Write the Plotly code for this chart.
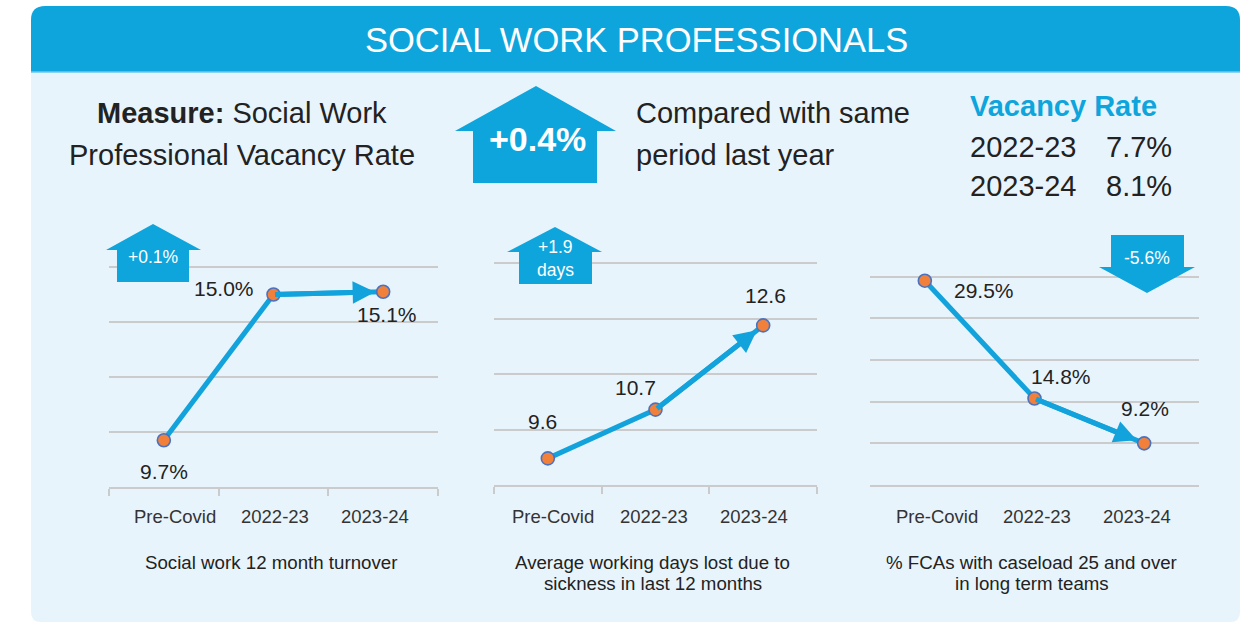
import plotly.graph_objects as go

# ---- data -------------------------------------------------------------
periods = ["Pre-Covid", "2022-23", "2023-24"]
turnover_pct = [9.7, 15.0, 15.1]          # social work 12 month turnover
sickness_days = [9.6, 10.7, 12.6]         # average working days lost to sickness
caseload_pct = [29.5, 14.8, 9.2]          # % FCAs with caseload 25+ in long term teams

vacancy_years = ["2022-23", "2023-24"]
vacancy_rates = [7.7, 8.1]

captions = [
    ["Social work 12 month turnover"],
    ["Average working days lost due to", "sickness in last 12 months"],
    ["% FCAs with caseload 25 and over", "in long term teams"],
]

# ---- page geometry / styling -----------------------------------------
W, H = 1249, 625
BLUE = "#0ea5dd"
PANEL = "#e8f4fb"
LINE = "#12a3dc"
ORANGE = "#f0803a"
MARK_EDGE = "#4a72c0"
GRID = "#cbcbcb"
TEXT = "#222222"
FONT = "Liberation Sans, Arial, sans-serif"


def X(px):
    return px / W


def Y(py):
    return 1 - py / H


def path(points):
    return "M " + " L ".join(f"{X(a):.5f},{Y(b):.5f}" for a, b in points) + " Z"


def rounded(x0, y0, x1, y1, rt, rb):
    """Rectangle in pixel coords with top radius rt and bottom radius rb."""
    p = [f"M {X(x0):.5f},{Y(y1 - rb):.5f}",
         f"L {X(x0):.5f},{Y(y0 + rt):.5f}",
         f"Q {X(x0):.5f},{Y(y0):.5f} {X(x0 + rt):.5f},{Y(y0):.5f}",
         f"L {X(x1 - rt):.5f},{Y(y0):.5f}",
         f"Q {X(x1):.5f},{Y(y0):.5f} {X(x1):.5f},{Y(y0 + rt):.5f}",
         f"L {X(x1):.5f},{Y(y1 - rb):.5f}",
         f"Q {X(x1):.5f},{Y(y1):.5f} {X(x1 - rb):.5f},{Y(y1):.5f}",
         f"L {X(x0 + rb):.5f},{Y(y1):.5f}",
         f"Q {X(x0):.5f},{Y(y1):.5f} {X(x0):.5f},{Y(y1 - rb):.5f} Z"]
    return " ".join(p)


# each small chart: series, pixel box, y scale anchors, gridline step, label offsets
charts = [
    dict(values=turnover_pct, fmt="{:.1f}%", x0=109, x1=438,
         vlo=8, ylo=487, vhi=16, yhi=267, top=16.25, dtick=2, ticks=True,
         offsets=[(0, -31), (-50, 6), (4, -23)], tick_shift=[11, 1, -8]),
    dict(values=sickness_days, fmt="{:.1f}", x0=494, x1=817,
         vlo=9, ylo=485, vhi=14, yhi=263.3, top=14.15, dtick=1.25, ticks=True,
         offsets=[(-5, 37), (-20, 22), (2, 30)], tick_shift=[5, -2, -9]),
    dict(values=caseload_pct, fmt="{:.1f}%", x0=870, x1=1199,
         vlo=4, ylo=485, vhi=30, yhi=276.7, top=30.6, dtick=5.2, ticks=False,
         offsets=[(59, -10), (26, 22), (1, 35)], tick_shift=[12, 2, -7]),
]

fig = go.Figure()
annotations = []

for i, c in enumerate(charts, start=1):
    xa = "x" if i == 1 else f"x{i}"
    ya = "y" if i == 1 else f"y{i}"
    ppu = (c["ylo"] - c["yhi"]) / (c["vhi"] - c["vlo"])
    ytop_px = c["yhi"] - (c["top"] - c["vhi"]) * ppu

    fig.add_trace(go.Scatter(
        x=periods, y=c["values"], xaxis=xa, yaxis=ya, mode="lines+markers",
        line=dict(color=LINE, width=5),
        marker=dict(size=13, color=ORANGE, line=dict(color=MARK_EDGE, width=1.6)),
        hoverinfo="skip", showlegend=False, cliponaxis=False,
    ))

    xkey = "xaxis" if i == 1 else f"xaxis{i}"
    ykey = "yaxis" if i == 1 else f"yaxis{i}"
    fig.update_layout({
        xkey: dict(domain=[X(c["x0"]), X(c["x1"])], anchor=ya, type="category",
                   range=[-0.5, len(periods) - 0.5],
                   showgrid=False, zeroline=False, showline=True,
                   linecolor=GRID, linewidth=2,
                   ticks="outside", tickson="boundaries", ticklen=7,
                   tickcolor=GRID if c["ticks"] else "rgba(0,0,0,0)", tickwidth=1.5,
                   showticklabels=False, fixedrange=True),
        ykey: dict(domain=[Y(c["ylo"]), Y(ytop_px)], anchor=xa,
                   range=[c["vlo"], c["top"]], tick0=c["vlo"], dtick=c["dtick"],
                   showgrid=True, gridcolor=GRID, gridwidth=2,
                   showticklabels=False, zeroline=False, showline=False,
                   ticks="", fixedrange=True),
    })

    # category labels under the axis
    for p, dx in zip(periods, c["tick_shift"]):
        annotations.append(dict(
            x=p, y=Y(516), xref=xa, yref="paper", text=p, showarrow=False,
            xshift=dx, xanchor="center", yanchor="middle",
            font=dict(family=FONT, size=18.5, color="#333333")))

    # value labels
    for p, v, (dx, dy) in zip(periods, c["values"], c["offsets"]):
        annotations.append(dict(
            x=p, y=v, xref=xa, yref=ya, text=c["fmt"].format(v), showarrow=False,
            xshift=dx, yshift=dy, font=dict(family=FONT, size=21, color=TEXT)))

    # arrow head on the last segment
    annotations.append(dict(
        x=periods[2], y=c["values"][2], xref=xa, yref=ya,
        ax=periods[1], ay=c["values"][1], axref=xa, ayref=ya,
        text="", showarrow=True, arrowhead=2, arrowsize=0.9, arrowwidth=5,
        arrowcolor=LINE, standoff=8))

    # caption under the chart
    cx = (c["x0"] + c["x1"]) / 2
    for k, line in enumerate(captions[i - 1]):
        annotations.append(dict(
            x=X(cx - 3), y=Y(562 + 21 * k), xref="paper", yref="paper",
            text=line, showarrow=False, xanchor="center", yanchor="middle",
            font=dict(family=FONT, size=18.7, color=TEXT)))

# change badges computed from the series
turn_change = turnover_pct[2] - turnover_pct[1]
sick_change = sickness_days[2] - sickness_days[1]
case_change = caseload_pct[2] - caseload_pct[1]
vac_change = vacancy_rates[1] - vacancy_rates[0]

shapes = [
    dict(type="path", xref="paper", yref="paper", layer="below",
         path=rounded(31, 72, 1240, 622, 0, 10), fillcolor=PANEL, line=dict(width=0)),
    dict(type="path", xref="paper", yref="paper", layer="below",
         path=rounded(31, 6, 1240, 72, 14, 0), fillcolor=BLUE, line=dict(width=0)),
    dict(type="line", xref="paper", yref="paper", layer="below",
         x0=X(31), x1=X(1240), y0=Y(72), y1=Y(72), line=dict(color="#6cc8ec", width=1.5)),
    # big up arrow
    dict(type="path", xref="paper", yref="paper", layer="above", fillcolor=BLUE,
         line=dict(width=0),
         path=path([(473, 183), (473, 131), (455, 131), (536, 86), (616, 131),
                    (597, 131), (597, 183)])),
    # chart badges
    dict(type="path", xref="paper", yref="paper", layer="above", fillcolor=BLUE,
         line=dict(width=0),
         path=path([(117, 282), (117, 250), (106, 250), (153, 224), (201, 250),
                    (189, 250), (189, 282)])),
    dict(type="path", xref="paper", yref="paper", layer="above", fillcolor=BLUE,
         line=dict(width=0),
         path=path([(519, 284), (519, 252), (507, 252), (555, 227), (602, 252),
                    (592, 252), (592, 284)])),
    dict(type="path", xref="paper", yref="paper", layer="above", fillcolor=BLUE,
         line=dict(width=0),
         path=path([(1111, 235), (1184, 235), (1184, 267), (1195, 267), (1147, 293),
                    (1099, 267), (1111, 267)])),
]


def txt(x, y, s, size, color=TEXT, anchor="center", bold=False):
    annotations.append(dict(
        x=X(x), y=Y(y), xref="paper", yref="paper", showarrow=False,
        text=f"<b>{s}</b>" if bold else s, xanchor=anchor, yanchor="middle",
        font=dict(family=FONT, size=size, color=color)))


txt(636, 40, "SOCIAL WORK PROFESSIONALS", 34.5, "white")
txt(242, 113, "<b>Measure:</b> Social Work", 29)
txt(242, 155, "Professional Vacancy Rate", 29)
txt(634, 113, "Compared with same", 29, anchor="left")
txt(634, 155, "period last year", 29, anchor="left")
txt(968, 106, "Vacancy Rate", 29, BLUE, anchor="left", bold=True)
for k, (yr, rate) in enumerate(zip(vacancy_years, vacancy_rates)):
    txt(968, 147 + 39 * k, yr, 29, anchor="left")
    txt(1174, 147 + 39 * k, f"{rate:.1f}%", 29, anchor="right")

txt(537, 139, f"{vac_change:+.1f}%", 34, "white", bold=True)
txt(153, 257, f"{turn_change:+.1f}%", 17.5, "white")
txt(555, 247, f"{sick_change:+.1f}", 17.5, "white")
txt(555, 270, "days", 17.5, "white")
txt(1147, 258, f"{case_change:+.1f}%", 17.5, "white")

fig.update_layout(
    width=W, height=H, autosize=False,
    margin=dict(l=0, r=0, t=0, b=0),
    paper_bgcolor="white", plot_bgcolor="rgba(0,0,0,0)",
    shapes=shapes, annotations=annotations,
    font=dict(family=FONT, color=TEXT),
    showlegend=False,
)

fig.write_html("out.html", config={"displayModeBar": False})
